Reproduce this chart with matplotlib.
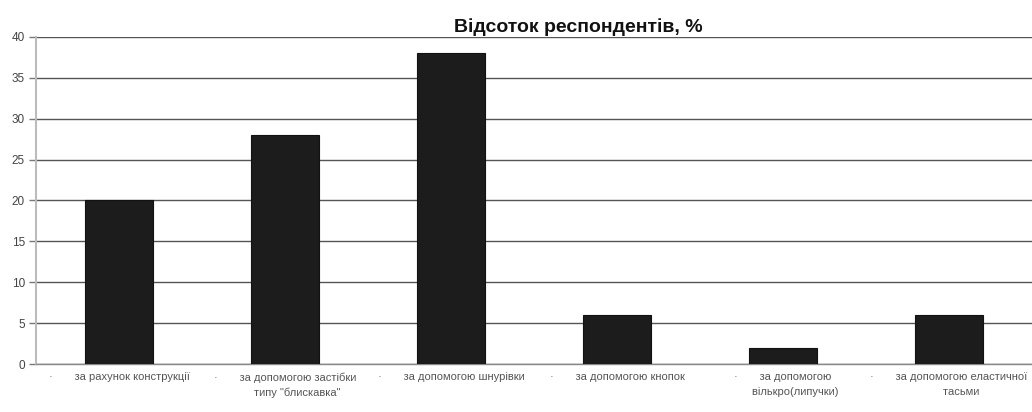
import matplotlib
matplotlib.use('Agg')
import matplotlib.pyplot as plt
import numpy as np

plt.rcParams['font.family'] = ['Liberation Sans Narrow', 'Liberation Sans', 'DejaVu Sans']

# частка респондентів за способом застібання
categories = [
    'за рахунок конструкції',
    'за допомогою застібки\nтипу "блискавка"',
    'за допомогою шнурівки',
    'за допомогою кнопок',
    'за допомогою\nвількро(липучки)',
    'за допомогою еластичної\nтасьми',
]
values = [20, 28, 38, 6, 2, 6]
title = 'Відсоток респондентів, %'

fig = plt.figure(figsize=(10.32, 4.12), dpi=100)
ax = fig.add_axes([0.035, 0.1165, 0.965, 0.7937])

x = np.arange(len(categories))
ax.bar(x, values, width=0.41, color='#1c1c1c', edgecolor='#111111', linewidth=0.8, zorder=3)

ax.set_xlim(-0.5, len(categories) - 0.5)
ax.set_ylim(0, 40)
ax.set_yticks(np.arange(0, 41, 5))
ax.yaxis.grid(True, color='#555555', linewidth=1.0, zorder=0)
ax.set_axisbelow(True)

ax.set_xticks(x)
ax.set_xticklabels(['·       ' + c.replace('\n', '\n        ') for c in categories],
                   fontsize=8, color='#555555', linespacing=1.6)
ax.tick_params(axis='x', length=0, pad=6)
ax.tick_params(axis='y', length=5, width=1, color='#777777', labelsize=8.5,
               labelcolor='#444444', pad=3)

for side in ('top', 'right'):
    ax.spines[side].set_visible(False)
ax.spines['left'].set_color('#bbbbbb')
ax.spines['left'].set_linewidth(1.5)
ax.spines['bottom'].set_color('#888888')
ax.spines['bottom'].set_linewidth(1.0)

fig.text(0.56, 0.935, title, ha='center', va='center', fontsize=14,
         fontweight='bold', color='#111111')

fig.savefig('out.png', dpi=100)
